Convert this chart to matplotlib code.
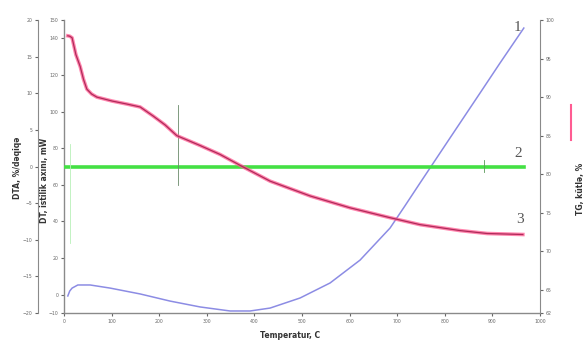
import numpy as np
import matplotlib.pyplot as plt

# DT curve (1), blue
t_dt = [8, 12, 17, 29, 55, 97, 160, 223, 286, 349, 391, 433, 496, 559, 622, 685, 716, 748, 811, 874, 916, 966]
dt = [-0.7, 2.0, 3.6, 5.3, 5.3, 3.6, 0.4, -3.5, -6.7, -8.9, -8.9, -7.3, -1.8, 6.4, 18.9, 36.4, 48.4, 61.0, 85.6, 110.1, 126.5, 145.6]

# DTA curve (2), green
t_dta = [0, 240, 500, 882, 966]
dta = [0, 0, 0, 0, 0]

# TG curve (3), pink
t_tg = [8, 12, 17, 25, 34, 41, 48, 58, 69, 101, 132, 160, 187, 212, 237, 286, 328, 370, 433, 517, 601, 685, 748, 832, 889, 964]
tg = [97.95, 97.9, 97.69, 95.51, 93.97, 92.3, 91.03, 90.4, 90.0, 89.49, 89.10, 88.72, 87.56, 86.41, 85.0, 83.72,
      82.56, 81.15, 79.10, 77.18, 75.64, 74.36, 73.46, 72.69, 72.31, 72.18]

x_ticks = np.arange(0, 1001, 100)
dt_ticks = [-10, 0, 20, 40, 60, 80, 100, 120, 140, 150]
dta_ticks = [-20, -15, -10, -5, 0, 5, 10, 15, 20]
tg_ticks = [62, 65, 70, 75, 80, 85, 90, 95, 100]

gray = '#8a8a8a'
tick_fs = 3.3

fig = plt.figure(figsize=(5.84, 3.42), dpi=100)
ax = fig.add_axes([64/584, 1-313/342, 476/584, 293/342])

ax.plot(t_dt, dt, color='#8c8ce4', lw=1.1, zorder=3)
ax.set_xlim(0, 1000)
ax.set_ylim(-10, 150)
ax.set_xticks(x_ticks)
ax.set_yticks(dt_ticks)
for s in ['top', 'right']:
    ax.spines[s].set_visible(False)
for s in ['left', 'bottom']:
    ax.spines[s].set_color(gray)
    ax.spines[s].set_linewidth(1.0)
ax.tick_params(colors='#666666', labelsize=tick_fs, length=2.5, width=0.8, pad=1.5)

# outer left axis: DTA
ax_out = ax.twinx()
ax_out.plot(t_dta, dta, color='#44e044', lw=2.6, zorder=2)
ax_out.plot([240, 240], [8.4, -2.5], color='#6a8a6a', lw=0.6)
ax_out.plot([882, 882], [0.9, -0.7], color='#5a9a5a', lw=0.6)
ax_out.plot([12, 12], [3.1, -10.5], color='#b8f0b8', lw=0.6)
ax_out.set_ylim(-20.0, 20.0)
ax_out.set_yticks(dta_ticks)
ax_out.yaxis.set_ticks_position('left')
ax_out.yaxis.set_label_position('left')
ax_out.spines['left'].set_position(('axes', -26/476))
for s in ['top', 'right', 'bottom']:
    ax_out.spines[s].set_visible(False)
ax_out.spines['left'].set_color(gray)
ax_out.tick_params(colors='#666666', labelsize=tick_fs, length=2.5, width=0.8, pad=1.5)

# right axis: TG
ax_r = ax.twinx()
ax_r.plot(t_tg, tg, color='#ff5c92', lw=2.6, alpha=0.75, zorder=3)
ax_r.plot(t_tg, tg, color='#b02a5a', lw=0.9, zorder=4)
ax_r.set_ylim(100 - 293/39*5, 100)
ax_r.set_yticks(tg_ticks)
for s in ['top', 'left', 'bottom']:
    ax_r.spines[s].set_visible(False)
ax_r.spines['right'].set_color(gray)
ax_r.tick_params(colors='#666666', labelsize=tick_fs, length=2.5, width=0.8, pad=1.5)

# curve numbers
ax.text(952, 146, '1', family='Liberation Serif', fontsize=11, color='#555555', ha='center', va='center')
ax.text(954, 77, '2', family='Liberation Serif', fontsize=11, color='#555555', ha='center', va='center')
ax.text(958, 41, '3', family='Liberation Serif', fontsize=11, color='#555555', ha='center', va='center')

fig.text(290/584, 1-335/342, 'Temperatur, C', fontsize=5.5, fontweight='bold', color='#333333',
         ha='center', va='center')
fig.text(17/584, 1-168/342, 'DTA, %/dəqiqə', fontsize=5.5, fontweight='bold', color='#333333',
         ha='center', va='center', rotation=90)
fig.text(45/584, 1-180/342, 'DT, istilik axını, mW', fontsize=5.5, fontweight='bold', color='#333333',
         ha='center', va='center', rotation=90)
fig.text(581/584, 1-215/342, 'TG, kütlə, %', fontsize=5.5, fontweight='bold', color='#333333',
         ha='center', va='bottom', rotation=90)
fig.add_artist(plt.Line2D([571/584, 571/584], [1-140/342, 1-105/342], color='#ff5c92', lw=1.5))

fig.savefig('out.png', dpi=100, facecolor='white')
